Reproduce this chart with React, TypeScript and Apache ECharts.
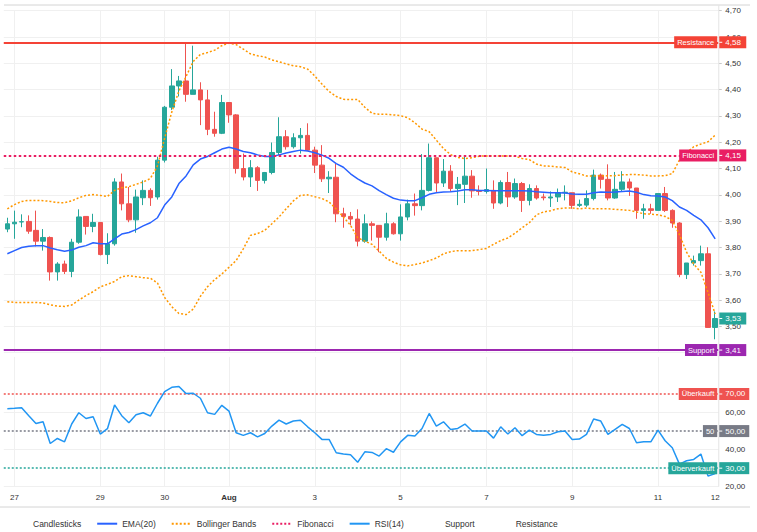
import React, { useEffect, useRef } from "react";
import * as echarts from "echarts";

// ---------- data ----------
const opens = [
  3.870, 3.890, 3.897, 3.899, 3.865, 3.824, 3.838, 3.707, 3.737, 3.709,
  3.820, 3.918, 3.880, 3.895, 3.773, 3.814, 4.049, 3.966, 3.905, 3.989,
  4.017, 3.992, 4.132, 4.333, 4.414, 4.433, 4.382, 4.399, 4.361, 4.249,
  4.234, 4.351, 4.304, 4.100, 4.068, 4.103, 4.055, 4.085, 4.161, 4.221,
  4.183, 4.217, 4.226, 4.170, 4.113, 4.061, 4.067, 3.928, 3.918, 3.908,
  3.824, 3.890, 3.884, 3.839, 3.890, 3.852, 3.916, 3.966, 3.959, 4.017,
  4.141, 4.045, 4.090, 4.024, 4.040, 4.071, 4.015, 4.013, 4.017, 3.969,
  4.047, 3.992, 4.043, 3.979, 4.024, 3.992, 3.988, 3.992, 4.008, 4.008,
  3.960, 3.961, 3.986, 4.075, 4.059, 3.988, 4.021, 4.049, 4.026, 3.941,
  3.947, 3.941, 4.005, 3.941, 3.893, 3.697, 3.741, 3.750, 3.776, 3.496,
];
const highs = [
  3.913, 3.940, 3.926, 3.922, 3.940, 3.870, 3.842, 3.744, 3.750, 3.833,
  3.945, 3.918, 3.928, 3.897, 3.854, 4.063, 4.081, 4.030, 4.020, 4.055,
  4.025, 4.145, 4.338, 4.478, 4.452, 4.577, 4.567, 4.428, 4.399, 4.316,
  4.380, 4.353, 4.307, 4.157, 4.132, 4.109, 4.087, 4.199, 4.295, 4.246,
  4.234, 4.254, 4.272, 4.183, 4.189, 4.090, 4.119, 3.951, 3.935, 3.945,
  3.926, 3.899, 3.884, 3.932, 3.896, 3.964, 3.982, 4.005, 4.155, 4.195,
  4.141, 4.136, 4.113, 4.068, 4.145, 4.094, 4.036, 4.100, 4.055, 4.055,
  4.087, 4.062, 4.049, 4.040, 4.036, 4.005, 4.013, 4.024, 4.036, 4.008,
  3.982, 4.017, 4.096, 4.081, 4.116, 4.087, 4.090, 4.062, 4.026, 3.966,
  3.966, 4.005, 4.030, 3.945, 3.896, 3.741, 3.769, 3.807, 3.801, 3.557,
];
const lows = [
  3.858, 3.833, 3.877, 3.852, 3.804, 3.788, 3.674, 3.674, 3.699, 3.687,
  3.814, 3.849, 3.858, 3.770, 3.737, 3.807, 3.941, 3.896, 3.856, 3.961,
  3.958, 3.982, 4.123, 4.323, 4.374, 4.354, 4.382, 4.265, 4.227, 4.221,
  4.231, 4.274, 4.081, 4.055, 4.030, 4.015, 4.043, 4.078, 4.151, 4.172,
  4.176, 4.157, 4.167, 4.083, 4.049, 4.007, 3.896, 3.875, 3.884, 3.804,
  3.818, 3.826, 3.782, 3.826, 3.849, 3.826, 3.903, 3.921, 3.941, 4.013,
  4.011, 4.030, 4.012, 3.961, 3.969, 3.989, 3.998, 4.005, 3.947, 3.964,
  3.954, 3.985, 3.935, 3.960, 3.982, 3.979, 3.954, 3.973, 3.979, 3.947,
  3.954, 3.954, 3.979, 4.024, 3.979, 3.985, 4.011, 3.996, 3.909, 3.909,
  3.928, 3.941, 3.935, 3.875, 3.687, 3.680, 3.731, 3.731, 3.496, 3.451,
];
const closes = [
  3.890, 3.896, 3.898, 3.862, 3.824, 3.838, 3.707, 3.737, 3.709, 3.820,
  3.916, 3.880, 3.895, 3.773, 3.814, 4.049, 3.966, 3.905, 3.992, 4.017,
  3.989, 4.132, 4.333, 4.414, 4.433, 4.382, 4.399, 4.361, 4.249, 4.234,
  4.351, 4.304, 4.100, 4.068, 4.103, 4.055, 4.085, 4.161, 4.221, 4.183,
  4.217, 4.226, 4.170, 4.113, 4.061, 4.067, 3.928, 3.918, 3.908, 3.824,
  3.890, 3.884, 3.839, 3.890, 3.852, 3.916, 3.966, 3.959, 4.017, 4.141,
  4.045, 4.090, 4.024, 4.040, 4.071, 4.015, 4.013, 4.020, 3.969, 4.047,
  3.992, 4.043, 3.979, 4.024, 3.988, 3.989, 3.992, 4.008, 4.010, 3.960,
  3.964, 3.986, 4.075, 4.059, 3.988, 4.021, 4.049, 4.026, 3.941, 3.947,
  3.941, 4.005, 3.941, 3.893, 3.697, 3.741, 3.750, 3.776, 3.496, 3.530,
];
const ema20 = [
  3.776, 3.788, 3.800, 3.805, 3.807, 3.807, 3.798, 3.791, 3.786, 3.790,
  3.801, 3.807, 3.818, 3.814, 3.814, 3.833, 3.851, 3.857, 3.868, 3.882,
  3.894, 3.913, 3.961, 3.992, 4.043, 4.072, 4.114, 4.136, 4.146, 4.160,
  4.174, 4.181, 4.174, 4.165, 4.160, 4.152, 4.146, 4.146, 4.152, 4.159,
  4.165, 4.170, 4.167, 4.160, 4.151, 4.139, 4.119, 4.105, 4.080, 4.061,
  4.045, 4.034, 4.016, 4.001, 3.987, 3.980, 3.978, 3.978, 3.989, 4.002,
  4.008, 4.011, 4.012, 4.015, 4.019, 4.019, 4.017, 4.017, 4.016, 4.016,
  4.016, 4.016, 4.016, 4.015, 4.012, 4.010, 4.008, 4.008, 4.007, 4.003,
  4.002, 4.002, 4.008, 4.011, 4.010, 4.011, 4.013, 4.015, 4.010, 4.001,
  3.997, 3.996, 3.992, 3.978, 3.954, 3.941, 3.922, 3.905, 3.875, 3.833,
];
const bbUpper = [
  3.947, 3.963, 3.975, 3.979, 3.979, 3.978, 3.975, 3.971, 3.970, 3.977,
  3.989, 3.998, 4.001, 3.998, 3.994, 4.017, 4.027, 4.031, 4.040, 4.049,
  4.062, 4.110, 4.215, 4.315, 4.395, 4.450, 4.507, 4.534, 4.541, 4.550,
  4.567, 4.577, 4.571, 4.554, 4.536, 4.529, 4.524, 4.513, 4.506, 4.498,
  4.491, 4.487, 4.478, 4.452, 4.421, 4.393, 4.374, 4.363, 4.362, 4.363,
  4.333, 4.310, 4.306, 4.306, 4.304, 4.301, 4.293, 4.274, 4.250, 4.240,
  4.208, 4.176, 4.153, 4.142, 4.138, 4.141, 4.147, 4.148, 4.148, 4.148,
  4.148, 4.147, 4.138, 4.134, 4.117, 4.110, 4.109, 4.106, 4.104, 4.087,
  4.080, 4.072, 4.072, 4.073, 4.072, 4.073, 4.076, 4.077, 4.077, 4.075,
  4.072, 4.072, 4.073, 4.081, 4.132, 4.160, 4.183, 4.193, 4.202, 4.227,
];
const bbLower = [
  3.594, 3.591, 3.591, 3.591, 3.591, 3.589, 3.582, 3.577, 3.576, 3.581,
  3.600, 3.617, 3.632, 3.650, 3.660, 3.671, 3.689, 3.693, 3.689, 3.685,
  3.683, 3.665, 3.610, 3.575, 3.549, 3.545, 3.566, 3.614, 3.651, 3.678,
  3.699, 3.725, 3.750, 3.795, 3.846, 3.853, 3.865, 3.890, 3.916, 3.947,
  3.977, 3.998, 4.000, 3.993, 3.986, 3.973, 3.946, 3.916, 3.884, 3.837,
  3.824, 3.812, 3.786, 3.759, 3.744, 3.734, 3.730, 3.735, 3.741, 3.750,
  3.760, 3.776, 3.784, 3.788, 3.788, 3.788, 3.792, 3.796, 3.812, 3.826,
  3.836, 3.854, 3.875, 3.894, 3.924, 3.935, 3.940, 3.947, 3.950, 3.950,
  3.947, 3.950, 3.947, 3.947, 3.947, 3.945, 3.943, 3.941, 3.935, 3.928,
  3.927, 3.924, 3.918, 3.903, 3.849, 3.782, 3.737, 3.706, 3.629, 3.547,
];
const rsi14 = [
  62.1, 62.3, 62.6, 58.3, 54.1, 55.0, 43.3, 46.0, 44.2, 53.8,
  59.9, 56.8, 57.7, 48.4, 51.3, 64.1, 58.3, 54.5, 58.8, 59.9,
  58.1, 65.0, 71.3, 73.6, 74.0, 70.2, 70.4, 67.7, 59.9, 59.0,
  63.9, 60.8, 49.1, 47.7, 49.1, 46.9, 48.7, 52.7, 55.9, 53.8,
  55.4, 55.8, 52.3, 49.1, 45.5, 45.5, 38.3, 37.6, 37.2, 33.2,
  38.8, 38.5, 36.5, 40.5, 38.6, 44.2, 47.7, 47.3, 51.4, 59.5,
  52.7, 55.0, 50.9, 51.4, 53.8, 50.0, 50.0, 50.0, 46.2, 52.3,
  48.4, 51.8, 47.5, 50.5, 48.2, 47.8, 48.2, 49.6, 50.0, 45.5,
  45.7, 48.2, 56.5, 55.4, 48.2, 50.9, 53.6, 51.4, 43.7, 44.2,
  44.2, 50.5, 44.8, 41.0, 32.2, 34.0, 34.7, 37.6, 25.7, 27.1,
];

// x-axis ticks (candle index -> label)
const tickIndex = [1, 13, 22, 31, 43, 55, 67, 79, 91, 99];
const tickText = ["27", "29", "30", "Aug", "3", "5", "7", "9", "11", "12"];
const gridTickIndex = [1, 13, 22, 31, 43, 55, 67, 79, 91];

// price levels
const levelNames = ["Resistance", "Fibonacci", "Support"];
const levelValues = [4.58, 4.15, 3.41];
const levelColors = ["#F44336", "#E91E63", "#9C27B0"];

// RSI levels
const rsiLevelNames = ["Überkauft", "50", "Überverkauft"];
const rsiLevelValues = [70, 50, 30];
const rsiLevelColors = ["#EF5350", "#787B86", "#26A69A"];
const rsiGridValues = [20, 40, 60];

const legendNames = ["Candlesticks", "EMA(20)", "Bollinger Bands", "Fibonacci", "RSI(14)", "Support", "Resistance"];

// ---------- layout ----------
const W = 757;
const H = 532;
const FONT = "'Liberation Sans', Arial, sans-serif";
const GRID_LEFT = 3.76;
const GRID_RIGHT = 38.24;
const MAIN_TOP = 10.7;
const MAIN_H = 342;
const RSI_TOP = 356.9;
const RSI_H = 129.8;

const UP = "#26A69A";
const DOWN = "#EF5350";
const GRID_COLOR = "#f0f0f0";

const fmt = (v: number) => v.toFixed(2).replace(".", ",");

export default function App() {
  const ref = useRef<HTMLDivElement>(null);

  useEffect(() => {
    document.body.style.margin = "0";
    const chart = echarts.init(ref.current!, null, { renderer: "svg" });
    const cats = closes.map((_, i) => String(i));
    const candles = closes.map((c, i) => [opens[i], c, lows[i], highs[i]]);
    const vLines = gridTickIndex.map((i) => ({ xAxis: i }));

    const hiddenMark = {
      silent: true,
      symbol: ["none", "none"],
      label: { show: false },
      animation: false,
    };

    const option: any = {
      animation: false,
      textStyle: { fontFamily: FONT },
      grid: [
        { left: GRID_LEFT, right: GRID_RIGHT, top: MAIN_TOP, height: MAIN_H, containLabel: false, outerBoundsMode: "none" },
        { left: GRID_LEFT, right: GRID_RIGHT, top: RSI_TOP, height: RSI_H, containLabel: false, outerBoundsMode: "none" },
      ],
      legend: {
        left: 7,
        top: 515.7,
        padding: 0,
        itemWidth: 20,
        itemHeight: 14,
        itemGap: 15,
        selectedMode: false,
        data: legendNames,
        itemStyle: { opacity: 0 },
        textStyle: { fontSize: 8.5, color: "#333", fontFamily: FONT },
      },
      xAxis: [
        {
          type: "category",
          gridIndex: 0,
          data: cats,
          boundaryGap: true,
          axisLine: { show: false },
          axisTick: { show: false },
          axisLabel: { show: false },
          splitLine: { show: false },
        },
        {
          type: "category",
          gridIndex: 1,
          data: cats,
          boundaryGap: true,
          axisLine: { show: false },
          axisTick: { show: false },
          splitLine: { show: false },
          axisLabel: {
            interval: (idx: number) => tickIndex.includes(idx),
            formatter: (_v: string, idx: number) => {
              const k = tickIndex.indexOf(idx);
              if (k < 0) return "";
              const t = tickText[k];
              return isNaN(Number(t)) ? `{b|${t}}` : t;
            },
            fontSize: 8,
            color: "#333",
            margin: 7,
            rich: { b: { fontWeight: "bold", fontSize: 8, color: "#333", fontFamily: FONT } },
          },
        },
      ],
      yAxis: [
        {
          type: "value",
          gridIndex: 0,
          position: "right",
          min: 3.4,
          max: 4.7,
          interval: 0.1,
          axisLine: { show: false },
          axisTick: { show: true, length: 3, lineStyle: { color: "#c8c8c8" } },
          axisLabel: {
            fontSize: 8,
            color: "#333",
            margin: 6.5,
            formatter: (v: number) => (v < 3.45 ? "" : fmt(v)),
          },
          splitLine: { show: true, lineStyle: { color: GRID_COLOR, width: 1 } },
        },
        {
          type: "value",
          gridIndex: 1,
          position: "right",
          min: 20,
          max: 90,
          interval: 10,
          axisLine: { show: false },
          axisTick: { show: false },
          splitLine: { show: false },
          axisLabel: {
            fontSize: 8,
            color: "#333",
            margin: 6.5,
            formatter: (v: number) => (rsiGridValues.includes(Math.round(v)) ? fmt(v) : ""),
          },
        },
      ],
      series: [
        {
          name: "_gridMain",
          type: "line",
          xAxisIndex: 0,
          yAxisIndex: 0,
          data: [],
          markLine: { ...hiddenMark, z: 1, lineStyle: { color: GRID_COLOR, type: "solid", width: 1 }, data: vLines },
        },
        {
          name: "_gridRsi",
          type: "line",
          xAxisIndex: 1,
          yAxisIndex: 1,
          data: [],
          markLine: {
            ...hiddenMark,
            z: 1,
            lineStyle: { color: GRID_COLOR, type: "solid", width: 1 },
            data: [...vLines, ...rsiGridValues.map((v) => ({ yAxis: v }))],
          },
        },
        {
          name: "Candlesticks",
          type: "candlestick",
          xAxisIndex: 0,
          yAxisIndex: 0,
          data: candles,
          barWidth: 5,
          z: 2,
          itemStyle: { color: UP, color0: DOWN, borderColor: UP, borderColor0: DOWN, borderWidth: 1 },
        },
        {
          name: "EMA(20)",
          type: "line",
          xAxisIndex: 0,
          yAxisIndex: 0,
          data: ema20,
          symbol: "none",
          color: "#2962FF",
          lineStyle: { color: "#2962FF", width: 1.5 },
          z: 4,
        },
        {
          name: "Bollinger Bands",
          type: "line",
          xAxisIndex: 0,
          yAxisIndex: 0,
          data: bbUpper,
          symbol: "none",
          color: "#FF9800",
          lineStyle: { color: "#FF9800", width: 1.5, type: [2, 2] },
          z: 4,
        },
        {
          name: "Bollinger Bands",
          type: "line",
          xAxisIndex: 0,
          yAxisIndex: 0,
          data: bbLower,
          symbol: "none",
          color: "#FF9800",
          lineStyle: { color: "#FF9800", width: 1.5, type: [2, 2] },
          z: 4,
        },
        {
          name: "Fibonacci",
          type: "line",
          xAxisIndex: 0,
          yAxisIndex: 0,
          data: [],
          symbol: "none",
          color: levelColors[1],
          lineStyle: { color: levelColors[1], width: 1.5, type: [2, 2] },
          markLine: {
            ...hiddenMark,
            z: 5,
            lineStyle: { color: levelColors[1], width: 2, type: [2.5, 2.5] },
            data: [{ yAxis: levelValues[1] }],
          },
        },
        {
          name: "RSI(14)",
          type: "line",
          xAxisIndex: 1,
          yAxisIndex: 1,
          data: rsi14,
          symbol: "none",
          color: "#2196F3",
          lineStyle: { color: "#2196F3", width: 1.5 },
          z: 4,
          markLine: {
            ...hiddenMark,
            z: 3,
            data: rsiLevelValues.map((v, k) => ({
              yAxis: v,
              lineStyle: { color: rsiLevelColors[k], width: 1.5, type: [2, 2] },
            })),
          },
        },
        {
          name: "Support",
          type: "line",
          xAxisIndex: 0,
          yAxisIndex: 0,
          data: [],
          symbol: "none",
          color: levelColors[2],
          lineStyle: { color: levelColors[2], opacity: 0 },
          markLine: {
            ...hiddenMark,
            z: 5,
            lineStyle: { color: levelColors[2], width: 2, type: "solid" },
            data: [{ yAxis: levelValues[2] }],
          },
        },
        {
          name: "Resistance",
          type: "line",
          xAxisIndex: 0,
          yAxisIndex: 0,
          data: [],
          symbol: "none",
          color: levelColors[0],
          lineStyle: { color: levelColors[0], opacity: 0 },
          markLine: {
            ...hiddenMark,
            z: 5,
            lineStyle: { color: levelColors[0], width: 2, type: "solid" },
            data: [{ yAxis: levelValues[0] }],
          },
        },
      ],
    };

    chart.setOption(option);

    // ---------- tags and frame lines, positioned through the chart's own scales ----------
    const axisX = W - GRID_RIGHT;
    const g: any[] = [];
    g.push({ type: "line", z: 50, shape: { x1: 4, y1: 5, x2: 750, y2: 5 }, style: { stroke: "#d4d4d4", lineWidth: 1 } });
    g.push({ type: "line", z: 50, shape: { x1: axisX, y1: 5, x2: axisX, y2: RSI_TOP + RSI_H }, style: { stroke: "#e4e4e4", lineWidth: 1 } });
    g.push({ type: "line", z: 50, shape: { x1: 0, y1: 507, x2: 750, y2: 507 }, style: { stroke: "#d4d4d4", lineWidth: 1 } });

    const addTag = (y: number, color: string, name: string | null, valText: string, valW: number) => {
      g.push({ type: "rect", z: 100, shape: { x: axisX + 0.5, y: y - 6, width: valW, height: 12 }, style: { fill: color } });
      g.push({ type: "line", z: 101, shape: { x1: axisX + 0.5, y1: y, x2: axisX + 3.5, y2: y }, style: { stroke: "#fff", lineWidth: 1 } });
      g.push({
        type: "text",
        z: 101,
        x: axisX + 6.5,
        y,
        style: { text: valText, fill: "#fff", font: `8px ${FONT}`, align: "left", verticalAlign: "middle" },
      });
      if (name) {
        g.push({
          type: "text",
          z: 101,
          x: axisX - 1.5,
          y,
          style: {
            text: name,
            fill: "#fff",
            font: `7.5px ${FONT}`,
            align: "right",
            verticalAlign: "middle",
            backgroundColor: color,
            padding: [2, 3, 2, 3],
          },
        });
      }
    };

    levelValues.forEach((v, k) => {
      const y = chart.convertToPixel({ yAxisIndex: 0 }, v) as number;
      addTag(y, levelColors[k], levelNames[k], fmt(v), 27);
    });
    const last = closes[closes.length - 1];
    addTag(chart.convertToPixel({ yAxisIndex: 0 }, last) as number, UP, null, fmt(last), 27);
    rsiLevelValues.forEach((v, k) => {
      const y = chart.convertToPixel({ yAxisIndex: 1 }, v) as number;
      addTag(y, rsiLevelColors[k], rsiLevelNames[k], fmt(v), 30);
    });

    chart.setOption({ graphic: g });

    return () => chart.dispose();
  }, []);

  return (
    <div
      ref={ref}
      style={{ position: "absolute", left: 0, top: 0, width: W, height: H, background: "#fff" }}
    />
  );
}
